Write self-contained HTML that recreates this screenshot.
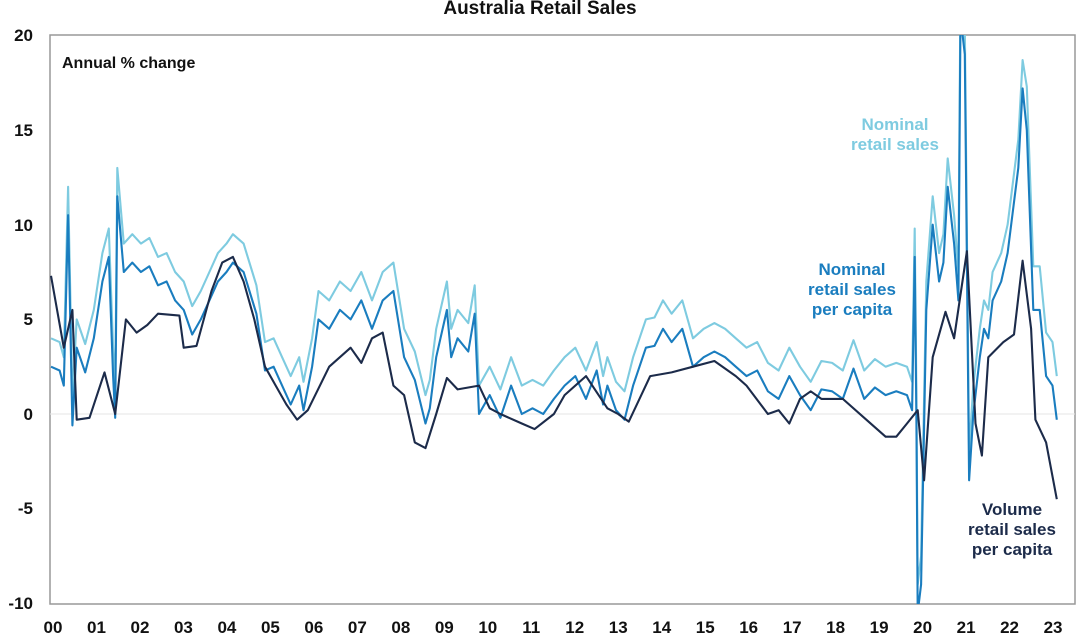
<!DOCTYPE html><html><head><style>body{margin:0;background:#fff}svg{display:block;font-family:"Liberation Sans",sans-serif;font-weight:bold}</style></head><body>
<svg id="s" width="1087" height="640" xmlns="http://www.w3.org/2000/svg">
<text x="540" y="14" text-anchor="middle" font-size="19" fill="#111">Australia Retail Sales</text>
<rect x="50" y="35" width="1025" height="569" fill="none" stroke="#999" stroke-width="1.5"/>
<line x1="50" y1="414" x2="1075" y2="414" stroke="#e6e6e6" stroke-width="1"/>
<g font-size="17" fill="#111" text-anchor="end">
<text x="33" y="41">20</text><text x="33" y="136">15</text><text x="33" y="231">10</text><text x="33" y="325">5</text><text x="33" y="420">0</text><text x="33" y="514">-5</text><text x="33" y="609">-10</text></g>
<g id="xl" font-size="17" fill="#111" text-anchor="middle"></g>
<text x="62" y="68" font-size="16" fill="#111">Annual % change</text>
<defs><clipPath id="c"><rect x="50" y="35" width="1025" height="569"/></clipPath></defs>
<g clip-path="url(#c)" fill="none" stroke-width="2.1" stroke-linejoin="round">
<path id="pn" stroke="#7ecbe0"/><path id="pp" stroke="#1a7dbf"/><path id="pv" stroke="#1c2b4a"/></g>
<g font-size="17" text-anchor="middle">
<text fill="#7ecbe0" x="895" y="130">Nominal</text><text fill="#7ecbe0" x="895" y="150">retail sales</text>
<text fill="#1a7dbf" x="852" y="275">Nominal</text><text fill="#1a7dbf" x="852" y="295">retail sales</text><text fill="#1a7dbf" x="852" y="315">per capita</text>
<text fill="#1c2b4a" x="1012" y="515">Volume</text><text fill="#1c2b4a" x="1012" y="535">retail sales</text><text fill="#1c2b4a" x="1012" y="555">per capita</text></g>
</svg>
<script>
var X=t=>51+42.8*t,Y=v=>414-18.93*v;
var xl=document.getElementById('xl'),h='';
for(var i=0;i<24;i++)h+='<text x="'+(53+i*43.48)+'" y="633">'+String(i).padStart(2,'0')+'</text>';
xl.innerHTML=h;
function P(a){var s='';for(var i=0;i<a.length;i+=2)s+=(i?'L':'M')+X(a[i]).toFixed(1)+','+Y(a[i+1]).toFixed(1);return s}
var v=[0,7.3,.3,3.5,.5,5.5,.6,-.3,.9,-.2,1.25,2.2,1.5,0,1.75,5,2,4.3,2.25,4.7,2.5,5.3,3,5.2,3.1,3.5,3.4,3.6,3.75,6.5,4,8,4.25,8.3,4.5,7,4.75,5,5,2.5,5.25,1.5,5.5,.5,5.75,-.3,6,.2,6.5,2.5,7,3.5,7.25,2.7,7.5,4,7.75,4.3,8,1.5,8.25,1,8.5,-1.5,8.75,-1.8,9,0,9.25,1.9,9.5,1.3,10,1.5,10.25,.3,10.5,0,11,-.5,11.3,-.8,11.75,0,12,1,12.5,2,13,.3,13.25,0,13.5,-.4,14,2,14.5,2.2,15,2.5,15.5,2.8,16,2,16.25,1.5,16.75,0,17,.2,17.25,-.5,17.5,.8,17.75,1.2,18,.8,18.5,.8,19,-.2,19.5,-1.2,19.75,-1.2,20,-.5,20.25,.2,20.4,-3.5,20.6,3,20.9,5.4,21.1,4,21.4,8.6,21.6,-.5,21.75,-2.2,21.9,3,22.25,3.8,22.5,4.2,22.7,8.1,22.9,4.5,23,-.3,23.25,-1.5,23.5,-4.5];
var p=[0,2.5,.2,2.3,.3,1.5,.4,10.5,.5,-.6,.6,3.5,.8,2.2,1,4,1.2,7,1.35,8.3,1.45,2,1.5,-.2,1.55,11.5,1.7,7.5,1.9,8,2.1,7.5,2.3,7.8,2.5,6.8,2.7,7,2.9,6,3.1,5.5,3.3,4.2,3.5,5,3.7,6,3.9,7,4.1,7.5,4.25,8,4.5,7.5,4.8,5.3,5,2.3,5.2,2.5,5.4,1.5,5.6,.5,5.8,1.5,5.9,.2,6.1,2.5,6.25,5,6.5,4.5,6.75,5.5,7,5,7.25,6,7.5,4.5,7.75,6,8,6.5,8.25,3,8.5,1.8,8.75,-.5,8.85,.3,9,3,9.25,5.5,9.35,3,9.5,4,9.75,3.3,9.9,5.3,10,0,10.25,1,10.5,-.2,10.75,1.5,11,0,11.25,.3,11.5,0,11.75,.8,12,1.5,12.25,2,12.5,.8,12.75,2.3,12.9,.5,13,1.5,13.2,.2,13.4,-.3,13.6,1.5,13.9,3.5,14.1,3.6,14.3,4.5,14.5,3.8,14.75,4.5,15,2.5,15.25,3,15.5,3.3,15.75,3,16,2.5,16.25,2,16.5,2.3,16.75,1.2,17,.8,17.25,2,17.5,1,17.75,.2,18,1.3,18.25,1.2,18.5,.8,18.75,2.4,19,.8,19.25,1.4,19.5,1,19.75,1.2,20,1,20.12,.2,20.18,8.3,20.22,-.3,20.25,-10.5,20.33,-9,20.45,5.5,20.6,10,20.75,7,20.85,8,20.95,12,21.1,9,21.2,6,21.25,21,21.35,19,21.45,-3.5,21.55,0,21.7,3,21.8,4.5,21.9,4,22,6,22.2,7,22.35,8.5,22.6,13,22.7,17.2,22.8,15,22.95,5.5,23.1,5.5,23.25,2,23.4,1.5,23.5,-.3];
var n=p.slice();for(var i=0;i<n.length;i+=2){var t=n[i],o=t<20?1.5:(t>=22.8?2.3:1.5);n[i+1]+=o;}
document.getElementById('pv').setAttribute('d',P(v));
document.getElementById('pp').setAttribute('d',P(p));
document.getElementById('pn').setAttribute('d',P(n));
</script></body></html>
